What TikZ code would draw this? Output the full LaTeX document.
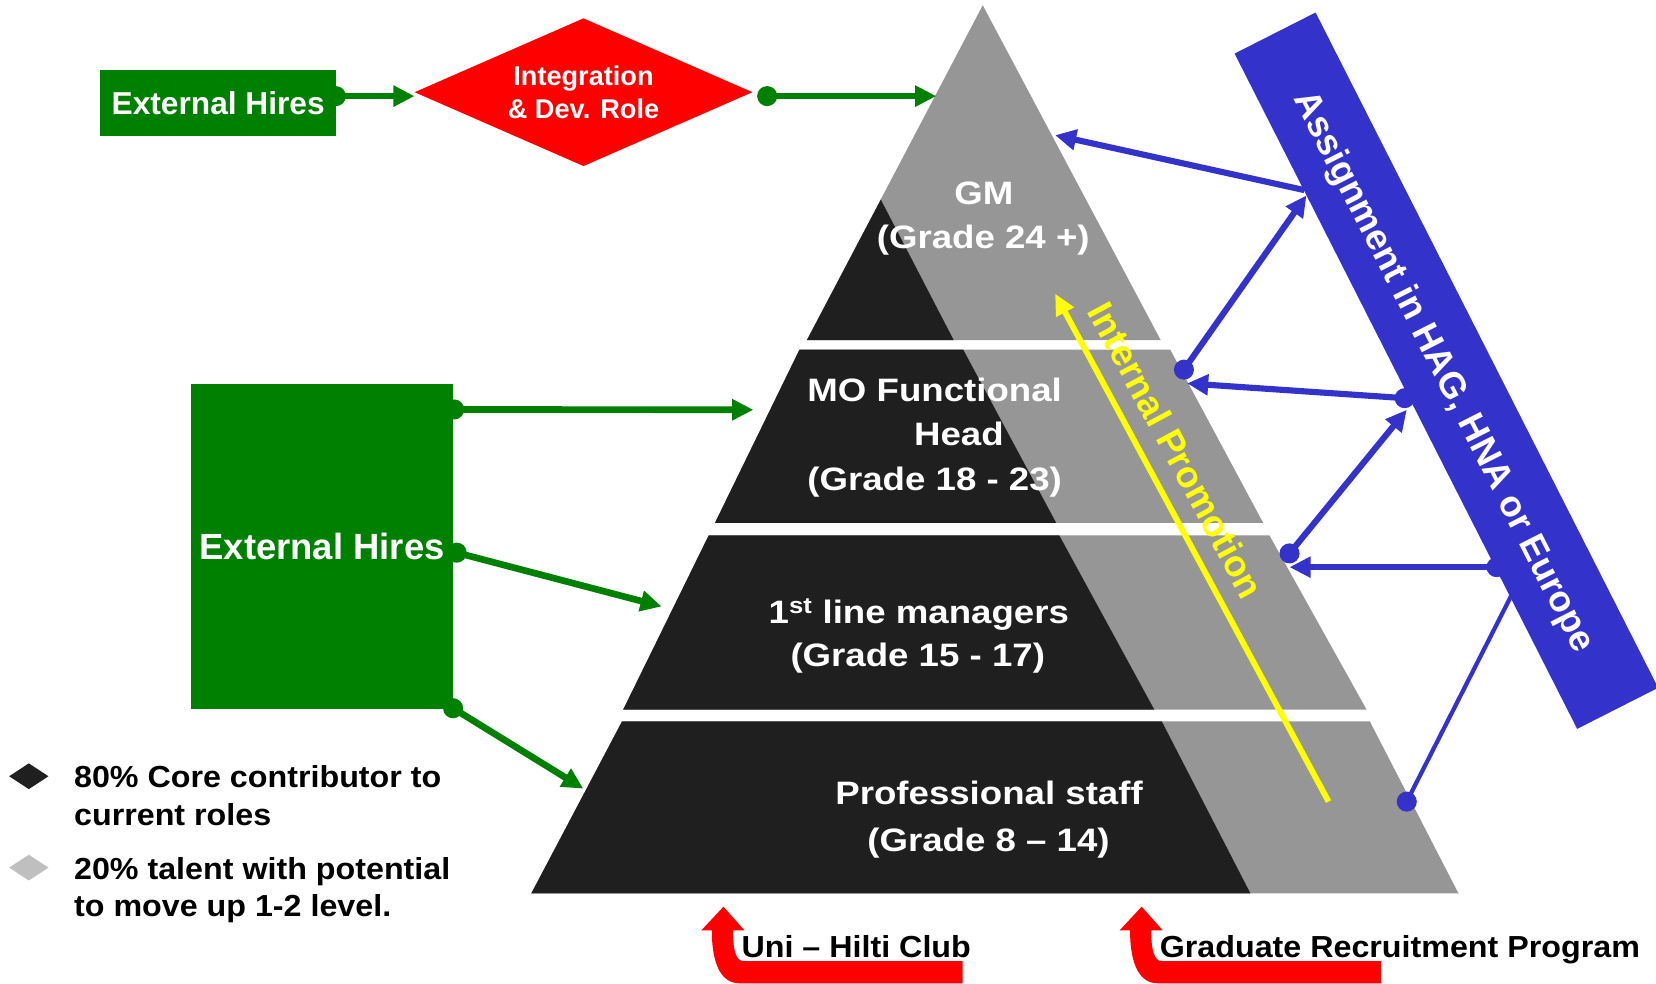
\documentclass[tikz,border=0pt]{standalone}
\usepackage{fontspec}
\setmainfont{Liberation Sans}
\newfontfamily\tierfont{Liberation Sans}[FakeStretch=1.13]
\newfontfamily\legfont{Liberation Sans}[FakeStretch=1.06]
\usetikzlibrary{arrows.meta,shapes.geometric}
\definecolor{hgreen}{RGB}{0,128,0}
\definecolor{hred}{RGB}{255,0,0}
\definecolor{hblue}{RGB}{51,51,204}
\definecolor{hdark}{RGB}{31,31,31}
\definecolor{hgray}{RGB}{150,150,150}
\definecolor{hyellow}{RGB}{255,255,0}
\definecolor{hlgray}{RGB}{191,191,191}
\begin{document}
\begin{tikzpicture}[x=1pt,y=-1pt,
  garrow/.style={draw=hgreen, line width=6.3pt, -{Triangle[length=20pt,width=19pt]}},
  gdot/.style={fill=hgreen},
  barrow/.style={draw=hblue, line width=5.8pt, -{Triangle[length=20pt,width=19pt]}},
  bdot/.style={fill=hblue},
  bthin/.style={draw=hblue, line width=4pt},
  tiertxt/.style={text=white, anchor=base, inner sep=0pt, font=\tierfont\bfseries\fontsize{30.7}{36}\selectfont},
  legtxt/.style={text=black, anchor=base west, inner sep=0pt, font=\legfont\bfseries\fontsize{28.8}{34}\selectfont},
  greenbox/.style={fill=hgreen, inner sep=0pt, text=white},
  redarr/.pic={\fill[hred] (664,881) -- (685,858.5) -- (705,881) -- (694,881)
      .. controls (694,900) and (697,910) .. (704,910) -- (911.5,910) -- (911.5,931)
      -- (700,931) .. controls (684,931) and (674,915) .. (674,881) -- cycle;}
]
\useasboundingbox (0,0) rectangle (1568,931);

% ---------- pyramid ----------
\fill[hgray] (930.5,5) -- (1099,322) -- (764,322) -- cycle;
\fill[hdark] (834,189) -- (903,322) -- (764,322) -- cycle;
\fill[hgray] (757,331) -- (1108,331) -- (1196,495) -- (677,495) -- cycle;
\fill[hdark] (757,331) -- (912,331) -- (1000,495) -- (677,495) -- cycle;
\fill[hgray] (671,507) -- (1202,507) -- (1294,672) -- (590,672) -- cycle;
\fill[hdark] (671,507) -- (1003,507) -- (1093,672) -- (590,672) -- cycle;
\fill[hgray] (589,683) -- (1297,683) -- (1381,846) -- (503,846) -- cycle;
\fill[hdark] (589,683) -- (1100,683) -- (1184,846) -- (503,846) -- cycle;

\node[tiertxt] (gm1) at (931.5,194) {GM};
\node[tiertxt] (gm2) at (931,235) {(Grade 24 +)};
\node[tiertxt] (mo1) at (885,380) {MO Functional};
\node[tiertxt] (mo2) at (908,421.5) {Head};
\node[tiertxt] (mo3) at (885,464) {(Grade 18 - 23)};
\node[tiertxt] (fl1) at (870,590) {1\textsuperscript{st} line managers};
\node[tiertxt] (fl2) at (869,631) {(Grade 15 - 17)};
\node[tiertxt] (ps1) at (936.5,762) {Professional staff};
\node[tiertxt] (ps2) at (936,806) {(Grade 8 – 14)};

% ---------- internal promotion ----------
\coordinate (ipS) at (1258,759);
\coordinate (ipE) at (999,278);
\draw[draw=hyellow, line width=5.5pt, -{Triangle[length=20pt,width=18pt]}] (ipS) -- (ipE);
\node[rotate=-61.7, text=hyellow, inner sep=0pt, text depth=0pt,
      font=\bfseries\fontsize{35}{40}\selectfont] (ip) at (1114,426) {Internal Promotion};

% ---------- blue connectors ----------
\coordinate (b1s) at (1235,180);  \coordinate (b1e) at (999,128);
\coordinate (b2s) at (1121,350);  \coordinate (b2e) at (1237,185);
\coordinate (b3s) at (1330,377);  \coordinate (b3e) at (1124,363);
\coordinate (b4s) at (1221,524);  \coordinate (b4e) at (1332,388);
\coordinate (b5s) at (1417,537);  \coordinate (b5e) at (1221,537);
\coordinate (b6s) at (1332,759);  \coordinate (b6e) at (1434,558);
\draw[barrow] (b1s) -- (b1e);
\draw[barrow] (b2s) -- (b2e);
\draw[barrow] (b3s) -- (b3e);
\draw[barrow] (b4s) -- (b4e);
\draw[barrow] (b5s) -- (b5e);
\draw[bthin] (b6s) -- (b6e);
\fill[bdot] (b2s) circle (9.5);
\fill[bdot] (b3s) circle (9.5);
\fill[bdot] (b4s) circle (9.5);
\fill[bdot] (b5s) circle (9.5);
\fill[bdot] (b6s) circle (9.5);

% ---------- banner ----------
\node[fill=hblue, rotate=-63.1, minimum width=717pt, minimum height=86pt, inner sep=0pt,
      text=white, text depth=0pt, font=\bfseries\fontsize{34.5}{40}\selectfont]
      (asg) at (1369.5,351) {Assignment in HAG, HNA or Europe};

% ---------- green connectors ----------
\coordinate (g1s) at (318,91);     \coordinate (g1e) at (392.5,91);
\coordinate (g2s) at (726.4,91);   \coordinate (g2e) at (886.5,91);
\coordinate (g3s) at (430,387.7);  \coordinate (g3e) at (713.3,388);
\coordinate (g4s) at (432.4,523.3);\coordinate (g4e) at (626.5,574.2);
\coordinate (g5s) at (429,670.6);  \coordinate (g5e) at (552.3,746.7);
\draw[garrow] (g1s) -- (g1e);
\draw[garrow] (g2s) -- (g2e);
\draw[garrow] (g3s) -- (g3e);
\draw[garrow] (g4s) -- (g4e);
\draw[garrow] (g5s) -- (g5e);
\foreach \p in {g1s,g2s,g3s,g4s,g5s} \fill[gdot] (\p) circle (9.5);

\node[greenbox, minimum width=223.2pt, minimum height=62.2pt,
      font=\bfseries\fontsize{30}{36}\selectfont] (eh1) at (206.6,97.4) {External Hires};
\node[greenbox, minimum width=248pt, minimum height=308pt,
      font=\bfseries\fontsize{34.5}{40}\selectfont] (eh2) at (305,517.4) {External Hires};
\node[shape=diamond, fill=hred, aspect=2.286, inner sep=0pt, minimum width=320pt,
      minimum height=140pt, text=white, align=center,
      font=\bfseries\fontsize{25.7}{30.6}\selectfont] (dev) at (552.5,87.3) {Integration\\\& Dev. Role};

% ---------- legend ----------
\fill[hdark] (8.7,735) -- (27.3,722.8) -- (45.9,735) -- (27.3,747.2) -- cycle;
\fill[hlgray] (8.7,821.5) -- (27.3,809.3) -- (45.9,821.5) -- (27.3,833.7) -- cycle;
\node[legtxt] (l1) at (70,746) {80\% Core contributor to};
\node[legtxt] (l2) at (70,782) {current roles};
\node[legtxt] (l3) at (70,833) {20\% talent with potential};
\node[legtxt] (l4) at (70,868) {to move up 1-2 level.};

% ---------- bottom red arrows ----------
\pic at (0,0) {redarr};
\pic at (396,0) {redarr};
\node[legtxt] (uni) at (702,907) {Uni – Hilti Club};
\node[legtxt] (grp) at (1098,907) {Graduate Recruitment Program};
\end{tikzpicture}
\end{document}
